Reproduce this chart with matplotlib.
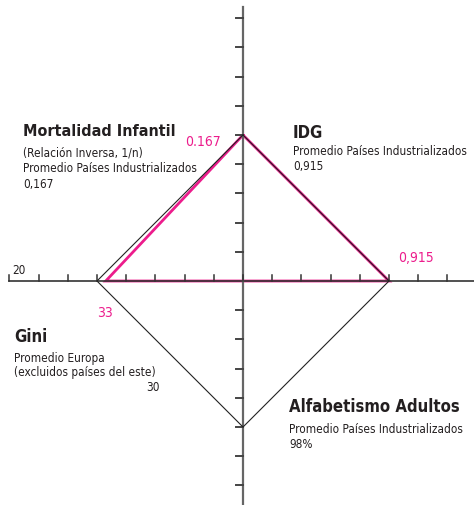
import matplotlib.pyplot as plt

# axis order: top, right, bottom, left
axis_names = ['Mortalidad Infantil', 'IDG', 'Alfabetismo Adultos', 'Gini']
ref_values = ['0,167', '0,915', '98%', '30']
country_values = ['0.167', '0,915', '', '33']
# radius of each vertex, in tick units
ref_radius = [5, 5, 5, 5]
country_radius = [5, 5, 0, 4.7]
directions = [(0, 1), (1, 0), (0, -1), (-1, 0)]

MAGENTA = '#ec1c8c'
plt.rcParams['font.family'] = ['DejaVu Sans']
plt.rcParams['font.stretch'] = 'condensed'

u = 29.2  # pixels per tick
fig = plt.figure(figsize=(4.74, 5.06), dpi=100)
ax = fig.add_axes([0, 0, 1, 1])
ax.set_xlim(-243 / u, 231 / u)
ax.set_ylim(-224 / u, 282 / u)
ax.axis('off')


def polygon(radius):
    xs = [d[0] * r for d, r in zip(directions, radius)]
    ys = [d[1] * r for d, r in zip(directions, radius)]
    return xs + xs[:1], ys + ys[:1]


# country polygon (magenta) under the reference one
cx, cy = polygon(country_radius)
ax.plot(cx, cy, color=MAGENTA, lw=2.0, zorder=2, solid_joinstyle='miter')

# axes with ticks
ax.plot([-8, 8.5], [0, 0], color='#333333', lw=1.2, zorder=3)
ax.plot([0, 0], [-8, 9.38], color='#666666', lw=1.6, zorder=3)
for k in range(-8, 8):
    ax.plot([k, k], [0, 0.2], color='#333333', lw=1.1, zorder=3)
for k in range(-7, 10):
    if k != 0:
        ax.plot([-0.25, 0], [k, k], color='#444444', lw=1.4, zorder=3)

# reference polygon (black)
rx, ry = polygon(ref_radius)
ax.plot(rx, ry, color='#222222', lw=0.8, zorder=4)


def px(x, y):
    return ((x - 243) / u, (282 - y) / u)


title_kw = dict(fontsize=12, fontweight='bold', color='#231f20')
body_kw = dict(fontsize=8.5, color='#231f20')
mag_kw = dict(fontsize=10, color=MAGENTA)

# Mortalidad Infantil
ax.text(*px(23, 136), axis_names[0], fontsize=11.5, fontweight='bold',
        color='#231f20')
ax.text(*px(23, 156), '(Relación Inversa, 1/n)', **body_kw)
ax.text(*px(23, 172), 'Promedio Países Industrializados', **body_kw)
ax.text(*px(23, 188), ref_values[0], **body_kw)
ax.text(*px(221, 146), country_values[0], ha='right', **mag_kw)

# IDG
ax.text(*px(293, 138), axis_names[1], **title_kw)
ax.text(*px(293, 155), 'Promedio Países Industrializados', **body_kw)
ax.text(*px(293, 170), ref_values[1], **body_kw)
ax.text(*px(398, 262), country_values[1], **mag_kw)

# Alfabetismo Adultos
ax.text(*px(289, 412), axis_names[2], **title_kw)
ax.text(*px(289, 433), 'Promedio Países Industrializados', **body_kw)
ax.text(*px(289, 448), ref_values[2], **body_kw)

# Gini
ax.text(*px(14, 342), axis_names[3], **title_kw)
ax.text(*px(14, 362), 'Promedio Europa', **body_kw)
ax.text(*px(14, 376), '(excluidos países del este)', **body_kw)
ax.text(*px(160, 391), ref_values[3], ha='right', **body_kw)
ax.text(*px(97, 317), country_values[3], **mag_kw)
ax.text(*px(12, 274), '20', **body_kw)

fig.savefig('out.png', dpi=100)
